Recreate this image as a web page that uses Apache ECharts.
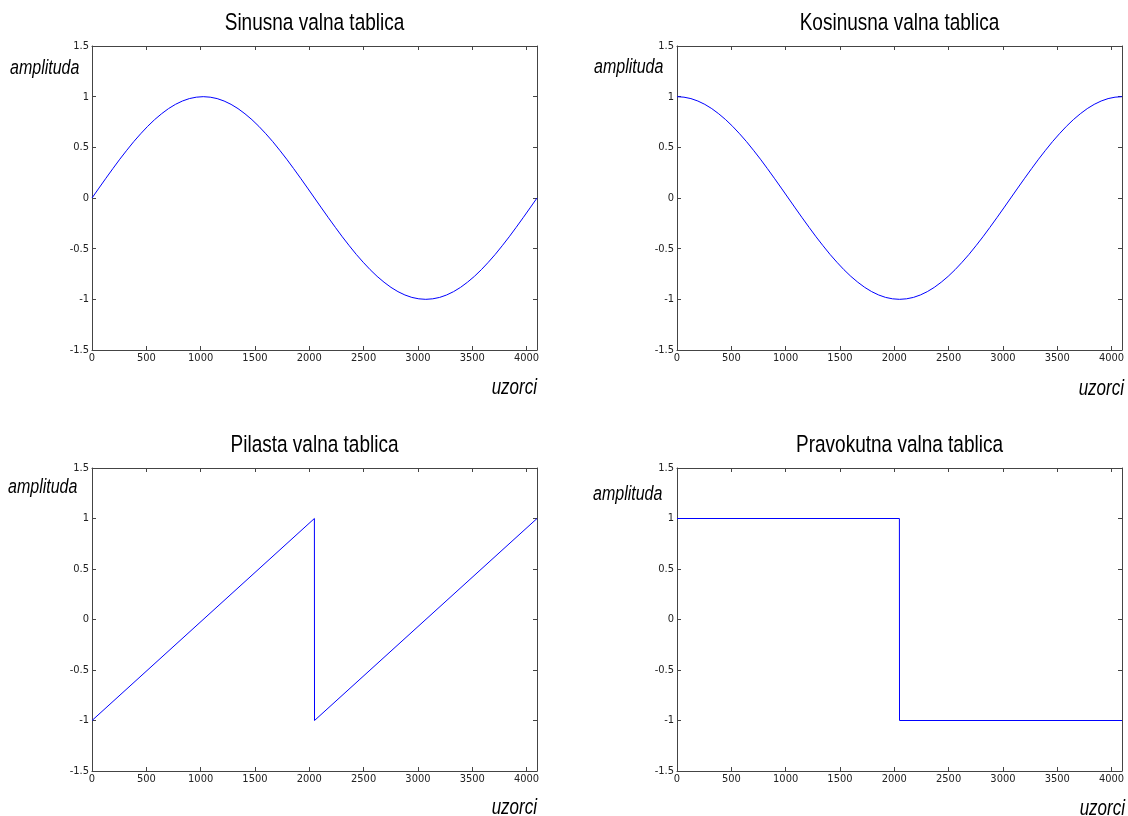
<!DOCTYPE html>
<html>
<head>
<meta charset="utf-8">
<script src="https://cdn.jsdelivr.net/npm/echarts@6/dist/echarts.min.js"></script>
<style>
  html, body { margin: 0; padding: 0; background: #fff; }
  #chart { width: 1128px; height: 816px; }
</style>
</head>
<body>
<div id="chart"></div>
<script>
// samples (every 64 samples of a 4096 table)
const sampleX = [0, 64, 128, 192, 256, 320, 384, 448, 512, 576, 640, 704, 768, 832, 896, 960,
  1024, 1088, 1152, 1216, 1280, 1344, 1408, 1472, 1536, 1600, 1664, 1728, 1792, 1856, 1920, 1984,
  2048, 2112, 2176, 2240, 2304, 2368, 2432, 2496, 2560, 2624, 2688, 2752, 2816, 2880, 2944, 3008,
  3072, 3136, 3200, 3264, 3328, 3392, 3456, 3520, 3584, 3648, 3712, 3776, 3840, 3904, 3968, 4032, 4096];
const sineValues = [0, 0.098, 0.195, 0.29, 0.383, 0.471, 0.556, 0.634, 0.707, 0.773, 0.831, 0.882, 0.924, 0.957, 0.981, 0.995,
  1, 0.995, 0.981, 0.957, 0.924, 0.882, 0.831, 0.773, 0.707, 0.634, 0.556, 0.471, 0.383, 0.29, 0.195, 0.098,
  0, -0.098, -0.195, -0.29, -0.383, -0.471, -0.556, -0.634, -0.707, -0.773, -0.831, -0.882, -0.924, -0.957, -0.981, -0.995,
  -1, -0.995, -0.981, -0.957, -0.924, -0.882, -0.831, -0.773, -0.707, -0.634, -0.556, -0.471, -0.383, -0.29, -0.195, -0.098, 0];
const cosineValues = [1, 0.995, 0.981, 0.957, 0.924, 0.882, 0.831, 0.773, 0.707, 0.634, 0.556, 0.471, 0.383, 0.29, 0.195, 0.098,
  0, -0.098, -0.195, -0.29, -0.383, -0.471, -0.556, -0.634, -0.707, -0.773, -0.831, -0.882, -0.924, -0.957, -0.981, -0.995,
  -1, -0.995, -0.981, -0.957, -0.924, -0.882, -0.831, -0.773, -0.707, -0.634, -0.556, -0.471, -0.383, -0.29, -0.195, -0.098,
  0, 0.098, 0.195, 0.29, 0.383, 0.471, 0.556, 0.634, 0.707, 0.773, 0.831, 0.882, 0.924, 0.957, 0.981, 0.995, 1];
const sawX = [0, 2047, 2048, 4096];
const sawValues = [-1, 1, -1, 1];
const squareX = [0, 2047, 2048, 4096];
const squareValues = [1, 1, -1, -1];

const titles = ["Sinusna valna tablica", "Kosinusna valna tablica", "Pilasta valna tablica", "Pravokutna valna tablica"];
const yLabel = "amplituda";
const xLabel = "uzorci";

const xMin = 0, xMax = 4096, xStep = 500;
const yMin = -1.5, yMax = 1.5, yStep = 0.5;

const pairs = (xs, ys) => xs.map((x, i) => [x, ys[i]]);
const seriesData = [
  pairs(sampleX, sineValues),
  pairs(sampleX, cosineValues),
  pairs(sawX, sawValues),
  pairs(squareX, squareValues),
];

// plot boxes and label spots (the original text is stretched vertically)
const boxes = [
  { left: 92, top: 46, width: 445, height: 304, titleY: 23.5, ampX: 10, ampY: 68, uzY: 388, uzR: 537 },
  { left: 677, top: 46, width: 445, height: 304, titleY: 23.5, ampX: 594, ampY: 67, uzY: 389, uzR: 1124 },
  { left: 92, top: 468, width: 445, height: 303, titleY: 445.5, ampX: 8, ampY: 487, uzY: 808, uzR: 537 },
  { left: 677, top: 468, width: 445, height: 303, titleY: 445.5, ampX: 593, ampY: 494, uzY: 809, uzR: 1125 },
];
const stretch = 1.25;

const axisColor = "#444";
const tickFont = {
  fontFamily: "DejaVu Sans Condensed, Liberation Sans Narrow, Liberation Sans, sans-serif",
  fontSize: 11, color: "#222",
  formatter: (v) => String(v),
};
const boxLine = { show: true, onZero: false, lineStyle: { color: axisColor, width: 1 } };
const boxTick = { show: true, inside: true, length: 4, lineStyle: { color: axisColor } };

const grids = [], xAxes = [], yAxes = [], series = [], graphics = [];

boxes.forEach((b, i) => {
  grids.push({ left: b.left, top: b.top, width: b.width, height: b.height, containLabel: false });
  xAxes.push({
    type: "value", gridIndex: i, position: "bottom", min: xMin, max: xMax, interval: xStep,
    axisLine: boxLine, axisTick: boxTick, splitLine: { show: false },
    axisLabel: Object.assign({ margin: 3, showMaxLabel: false }, tickFont),
  });
  yAxes.push({
    type: "value", gridIndex: i, position: "left", min: yMin, max: yMax, interval: yStep,
    axisLine: boxLine, axisTick: boxTick, splitLine: { show: false },
    axisLabel: Object.assign({ margin: 3 }, tickFont),
  });
  series.push({
    type: "line",
    xAxisIndex: i,
    yAxisIndex: i,
    data: seriesData[i],
    showSymbol: false,
    lineStyle: { color: "#0000ff", width: 1 },
    animation: false,
  });

  graphics.push({
    type: "text", x: b.left + b.width / 2, y: b.titleY, scaleY: stretch,
    style: { text: titles[i], font: "19px Liberation Sans, Arial, sans-serif", fill: "#000", align: "center", verticalAlign: "middle" },
  });
  graphics.push({
    type: "text", x: b.ampX, y: b.ampY, scaleY: stretch,
    style: { text: yLabel, font: "italic 16px Liberation Sans, Arial, sans-serif", fill: "#000", verticalAlign: "middle" },
  });
  graphics.push({
    type: "text", x: b.uzR, y: b.uzY, scaleY: stretch,
    style: { text: xLabel, font: "italic 17px Liberation Sans, Arial, sans-serif", fill: "#000", align: "right", verticalAlign: "middle" },
  });
});

// top and right box edges with inward ticks
boxes.forEach((b, i) => {
  xAxes.push({
    type: "value", gridIndex: i, position: "top", min: xMin, max: xMax, interval: xStep,
    axisLine: boxLine, axisTick: boxTick, axisLabel: { show: false }, splitLine: { show: false },
  });
  yAxes.push({
    type: "value", gridIndex: i, position: "right", min: yMin, max: yMax, interval: yStep,
    axisLine: boxLine, axisTick: boxTick, axisLabel: { show: false }, splitLine: { show: false },
  });
});

const chart = echarts.init(document.getElementById("chart"), null, { renderer: "canvas" });
chart.setOption({
  backgroundColor: "#fff",
  animation: false,
  grid: grids,
  xAxis: xAxes,
  yAxis: yAxes,
  series: series,
  graphic: graphics,
});
</script>
</body>
</html>
